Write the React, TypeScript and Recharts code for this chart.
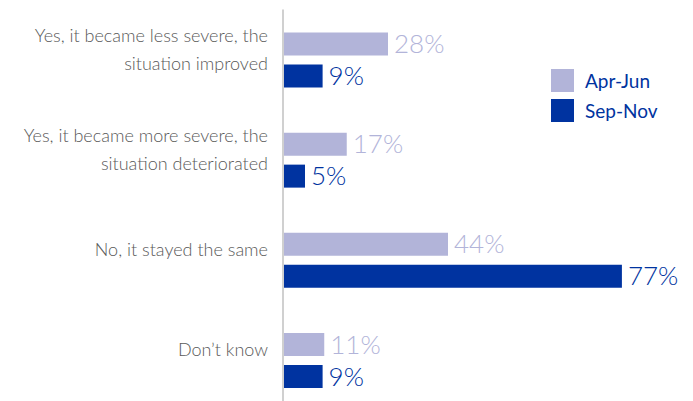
import React from 'react';
import { BarChart, Bar, XAxis, YAxis, LabelList } from 'recharts';

const categories = [
  'Yes, it became less severe, the|situation improved',
  'Yes, it became more severe, the|situation deteriorated',
  'No, it stayed the same',
  "Don\u2019t know",
];
const aprJun = [28, 17, 44, 11];
const sepNov = [9, 5, 77, 9];
const seriesNames = ['Apr-Jun', 'Sep-Nov'];

const LIGHT = '#b2b4d9';
const DARK = '#0033a0';
const FONT = 'Lato, "Open Sans", sans-serif';

const data = categories.map((c, i) => ({ cat: c, a: aprJun[i], s: sepNov[i] }));

const CatTick = (props: any) => {
  const { x, y, payload } = props;
  const lines = String(payload.value).split('|');
  const lh = 28;
  const start = -10.5 - ((lines.length - 1) * lh) / 2;
  return (
    <text x={x} y={y} textAnchor="end" fill="#595959" fontSize={18} fontFamily={FONT} fontWeight={300}>
      {lines.map((l, i) => (
        <tspan key={i} x={x} y={y + start + i * lh} dominantBaseline="central">
          {l}
        </tspan>
      ))}
    </text>
  );
};

const LegendBox = () => (
  <div style={{ position: 'absolute', left: 551, top: 69, fontFamily: FONT }}>
    {[LIGHT, DARK].map((c, i) => (
      <div key={i} style={{ display: 'flex', alignItems: 'center', height: 23, marginBottom: i === 0 ? 7 : 0 }}>
        <div style={{ width: 23, height: 23, background: c, marginRight: 11 }} />
        <span style={{ color: DARK, fontSize: 19, fontWeight: 400 }}>{seriesNames[i]}</span>
      </div>
    ))}
  </div>
);

export default function App() {
  return (
    <div style={{ position: 'absolute', left: 0, top: 0, width: 693, height: 401, overflow: 'hidden', background: '#fff' }}>
      <BarChart
        width={693}
        height={410}
        data={data}
        layout="vertical"
        margin={{ top: 9.5, right: 35, bottom: 0, left: 0 }}
        barSize={23}
        barGap={9}
      >
        <XAxis xAxisId="a" type="number" domain={[0, 100]} hide />
        <XAxis xAxisId="s" type="number" domain={[0, 85.2]} hide />
        <YAxis
          type="category"
          dataKey="cat"
          width={283}
          axisLine={{ stroke: '#d0d0d0', strokeWidth: 2 }}
          tickLine={false}
          tickSize={0}
          tickMargin={15}
          tick={<CatTick />}
          interval={0}
        />
        <Bar xAxisId="a" dataKey="a" name={seriesNames[0]} fill={LIGHT} isAnimationActive={false}>
          <LabelList
            dataKey="a"
            position="right"
            offset={6}
            formatter={(v: any) => `${v}%`}
            style={{ fill: LIGHT, fontSize: 26, fontFamily: FONT, fontWeight: 300 }}
          />
        </Bar>
        <Bar xAxisId="s" dataKey="s" name={seriesNames[1]} fill={DARK} isAnimationActive={false}>
          <LabelList
            dataKey="s"
            position="right"
            offset={6}
            formatter={(v: any) => `${v}%`}
            style={{ fill: DARK, fontSize: 26, fontFamily: FONT, fontWeight: 300 }}
          />
        </Bar>
      </BarChart>
      <LegendBox />
    </div>
  );
}
